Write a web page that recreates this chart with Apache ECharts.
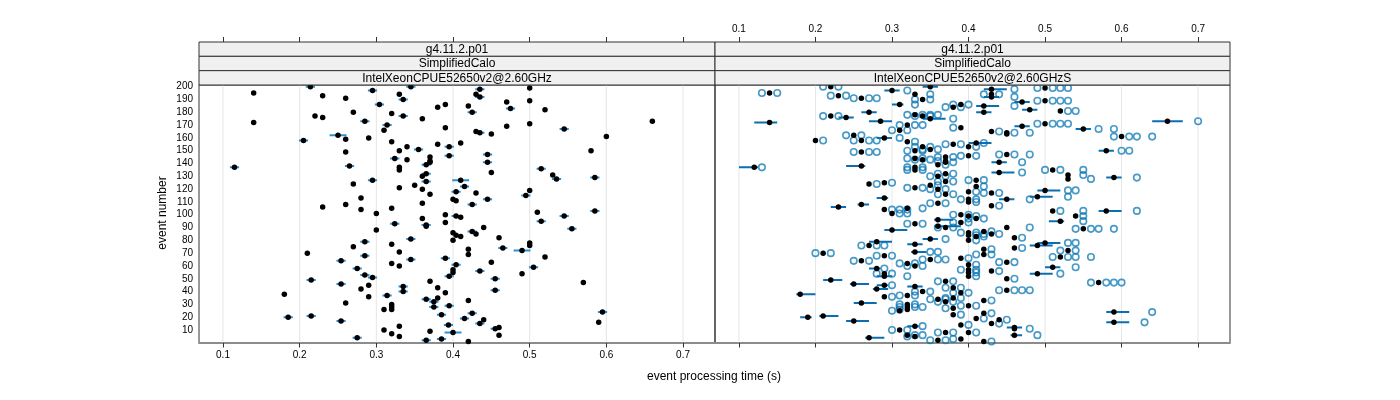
<!DOCTYPE html>
<html><head><meta charset="utf-8">
<script src="https://cdn.jsdelivr.net/npm/echarts@6/dist/echarts.min.js"></script>
<style>html,body{margin:0;padding:0;background:#fff}#c{width:1400px;height:400px}</style>
</head><body><div id="c"></div>
<script>
const xTicks = [0.1,0.2,0.3,0.4,0.5,0.6,0.7];
const yTicks = [10,20,30,40,50,60,70,80,90,100,110,120,130,140,150,160,170,180,190,200];
const stripLeft = ['g4.11.2.p01','SimplifiedCalo','IntelXeonCPUE52650v2@2.60GHz'];
const stripRight = ['g4.11.2.p01','SimplifiedCalo','IntelXeonCPUE52650v2@2.60GHzS'];
const xTitle = 'event processing time (s)';
const yTitle = 'event number';

// left panel: [time, event]
const leftPoints = [
[0.140,195],[0.140,172],[0.115,137],[0.214,200],[0.230,193],[0.260,191],[0.295,197],[0.330,194],[0.335,190],[0.345,200],[0.304,186],[0.270,180],[0.320,179],[0.335,177],[0.220,177],[0.230,176],[0.285,173],[0.360,175],[0.314,170],[0.310,166],[0.250,162],[0.260,159],[0.290,160],[0.205,158],[0.320,157],[0.380,155],[0.390,186],[0.380,184],[0.390,168],[0.340,153],[0.330,150],[0.355,151],[0.260,149],[0.324,144],[0.340,143],[0.370,145],[0.370,142],[0.370,141],[0.365,139],[0.265,138],[0.330,137],[0.330,135],[0.365,132],[0.360,130],[0.365,126],[0.295,127],[0.270,124],[0.350,123],[0.330,121],[0.360,120],[0.370,116],[0.280,113],[0.360,109],[0.260,108],[0.230,106],[0.280,104],[0.320,105],[0.300,101],[0.390,100],
[0.435,198],[0.430,194],[0.435,192],[0.500,199],[0.420,185],[0.425,180],[0.470,188],[0.475,183],[0.500,189],[0.520,182],[0.660,173],[0.430,165],[0.435,164],[0.450,163],[0.470,169],[0.500,171],[0.545,167],[0.600,161],[0.410,156],[0.395,153],[0.395,146],[0.445,147],[0.445,141],[0.580,150],[0.450,133],[0.515,136],[0.530,131],[0.535,128],[0.585,129],[0.410,127],[0.415,122],[0.404,118],[0.430,117],[0.500,119],[0.495,115],[0.400,112],[0.404,111],[0.445,112],[0.425,108],[0.510,102],[0.545,99],[0.585,103],[0.404,99],[0.410,98],
[0.360,97],[0.390,94],[0.324,93],[0.365,92],[0.365,91],[0.300,88],[0.345,81],[0.285,79],[0.320,77],[0.270,75],[0.330,71],[0.210,70],[0.285,68],[0.345,65],[0.254,64],[0.320,62],[0.330,60],[0.275,58],[0.285,53],[0.295,51],[0.215,49],[0.370,48],[0.254,46],[0.290,45],[0.280,42],[0.380,43],[0.335,44],[0.335,40],[0.390,39],[0.180,38],[0.314,37],[0.290,36],[0.365,34],[0.380,35],[0.375,32],[0.260,31],[0.320,30],[0.320,28],[0.320,26],[0.375,28],[0.310,26],[0.185,20],[0.215,21],[0.385,22],[0.254,17],[0.310,10],[0.330,13],[0.370,9],[0.320,7],[0.330,5],[0.275,4],[0.365,2],[0.385,3],[0.394,14],[0.390,66],
[0.515,95],[0.555,89],[0.440,90],[0.400,86],[0.404,84],[0.410,83],[0.425,87],[0.430,85],[0.400,80],[0.460,82],[0.500,78],[0.500,76],[0.465,74],[0.490,72],[0.420,73],[0.420,69],[0.520,67],[0.450,63],[0.404,61],[0.400,57],[0.400,55],[0.435,56],[0.505,59],[0.395,52],[0.490,54],[0.455,50],[0.570,47],[0.455,41],[0.420,33],[0.395,29],[0.425,23],[0.415,19],[0.440,18],[0.435,15],[0.455,11],[0.460,12],[0.400,8],[0.460,6],[0.420,1],[0.595,24],[0.590,16]
];
// left panel error bars: [low, high, event]
const leftErr = [
[0.109,0.121,137],[0.208,0.220,200],[0.289,0.301,197],[0.329,0.341,190],[0.339,0.351,200],[0.298,0.310,186],[0.329,0.341,177],[0.279,0.291,173],[0.308,0.320,170],[0.239,0.261,162],[0.199,0.211,158],[0.349,0.361,151],[0.318,0.330,144],[0.359,0.371,139],[0.259,0.271,138],[0.359,0.371,132],[0.359,0.371,126],[0.289,0.301,127],
[0.429,0.441,198],[0.429,0.441,192],[0.419,0.431,180],[0.469,0.481,183],[0.429,0.441,164],[0.539,0.551,167],[0.389,0.401,153],[0.389,0.401,146],[0.439,0.451,147],[0.439,0.451,141],[0.509,0.521,136],[0.529,0.541,128],[0.579,0.591,129],[0.399,0.421,127],[0.409,0.421,122],[0.398,0.410,118],[0.489,0.501,115],[0.439,0.451,112],[0.419,0.431,108],[0.539,0.551,99],[0.579,0.591,103],[0.398,0.410,99],
[0.318,0.330,93],[0.359,0.371,92],[0.339,0.351,81],[0.279,0.291,79],[0.279,0.291,68],[0.339,0.351,65],[0.248,0.260,64],[0.269,0.281,58],[0.279,0.291,53],[0.289,0.301,51],[0.209,0.221,49],[0.248,0.260,46],[0.329,0.341,44],[0.329,0.341,40],[0.308,0.320,37],[0.359,0.371,34],[0.369,0.381,32],[0.369,0.381,28],[0.179,0.191,20],[0.209,0.221,21],[0.379,0.391,22],[0.248,0.260,17],[0.269,0.281,4],[0.359,0.371,2],[0.379,0.391,3],[0.388,0.400,14],[0.384,0.396,66],
[0.509,0.521,95],[0.549,0.561,89],[0.419,0.431,87],[0.459,0.471,74],[0.479,0.501,72],[0.398,0.410,61],[0.429,0.441,56],[0.499,0.511,59],[0.389,0.401,52],[0.449,0.461,50],[0.449,0.461,41],[0.389,0.401,29],[0.419,0.431,23],[0.409,0.421,19],[0.429,0.441,15],[0.449,0.461,11],[0.389,0.411,8],[0.589,0.601,24]
];
// right panel means: [time, event]
const rightPoints = [
[.14,195],[.14,172],[.12,137],[.22,200],[.23,193],[.26,191],[.30,197],[.33,194],[.34,190],[.35,200],[.31,186],[.27,180],[.33,178],[.34,177],[.22,177],[.24,176],[.285,173],[.35,175],[.32,170],[.31,166],[.25,162],[.26,158],[.29,160],[.20,158],[.32,157],[.38,155],[.39,186],[.38,184],[.39,168],[.34,153],[.33,150],[.35,151],[.26,149],[.33,144],[.34,143],[.37,145],[.37,142],[.37,141],[.36,139],[.26,138],[.33,137],[.33,135],[.37,132],[.36,130],[.37,126],[.29,125],[.27,124],[.35,123],[.33,121],[.36,120],[.37,116],[.29,113],[.36,109],[.26,108],[.23,106],[.29,104],[.32,105],[.30,101],[.39,100],
[.43,198],[.43,194],[.43,192],[.50,199],[.42,185],[.42,180],[.47,188],[.48,182],[.50,189],[.52,181],[.66,173],[.43,165],[.45,164],[.45,163],[.47,169],[.50,171],[.55,167],[.60,161],[.41,156],[.40,153],[.40,146],[.45,147],[.44,141],[.58,150],[.44,133],[.51,135],[.53,131],[.53,128],[.59,129],[.41,127],[.41,122],[.40,118],[.43,117],[.50,119],[.49,114],[.40,112],[.40,110],[.45,112],[.43,107],[.51,103],[.54,99],[.58,103],[.40,99],[.41,97],
[.36,96],[.39,94],[.33,93],[.36,91],[.37,90],[.30,88],[.35,81],[.28,79],[.33,77],[.27,76],[.33,71],[.21,70],[.29,68],[.35,65],[.26,64],[.32,62],[.33,60],[.28,58],[.29,54],[.29,52],[.22,49],[.37,48],[.25,46],[.29,45],[.28,42],[.38,43],[.33,44],[.34,40],[.39,39],[.18,38],[.32,37],[.29,36],[.36,34],[.38,35],[.37,32],[.26,31],[.32,30],[.32,28],[.32,26],[.38,27],[.31,25],[.19,20],[.21,21],[.38,22],[.25,17],[.31,10],[.33,13],[.37,8],[.32,6],[.33,5],[.27,4],[.36,2],[.39,3],[.39,14],[.39,66],
[.52,95],[.55,89],[.45,90],[.40,86],[.40,84],[.41,83],[.42,87],[.43,85],[.40,80],[.46,82],[.50,78],[.49,76],[.46,74],[.53,72],[.42,73],[.42,69],[.52,67],[.45,63],[.40,61],[.40,57],[.40,55],[.43,56],[.51,59],[.40,52],[.49,54],[.45,50],[.57,47],[.45,41],[.42,33],[.40,29],[.42,23],[.41,19],[.44,18],[.43,15],[.46,11],[.46,12],[.40,8],[.46,6],[.42,1],[.59,24],[.59,16]
];
// right panel bars: [low, high, event]
const rightErr = [
[.12,.15,172],[.10,.125,137],[.29,.31,197],[.34,.36,200],[.30,.315,186],[.26,.28,180],[.23,.25,176],[.27,.30,173],[.34,.37,175],[.28,.30,160],[.24,.265,138],[.28,.295,113],[.255,.27,108],[.22,.24,106],
[.42,.45,198],[.42,.44,192],[.41,.44,185],[.41,.43,180],[.46,.48,188],[.47,.49,182],[.64,.68,173],[.46,.48,169],[.54,.56,167],[.40,.43,156],[.43,.45,141],[.57,.59,150],[.43,.46,133],[.58,.60,129],[.49,.52,119],[.48,.51,114],[.44,.46,112],[.57,.60,103],
[.355,.38,96],[.355,.39,91],[.29,.32,88],[.34,.36,81],[.27,.30,79],[.32,.34,77],[.325,.345,71],[.27,.285,58],[.28,.30,52],[.21,.235,49],[.245,.27,46],[.28,.295,45],[.275,.295,42],[.32,.34,44],[.175,.20,38],[.25,.28,31],[.18,.195,20],[.205,.23,21],[.24,.27,17],[.32,.335,13],[.265,.29,4],
[.505,.525,95],[.49,.52,78],[.48,.51,76],[.50,.52,59],[.48,.51,54],[.45,.47,12],[.455,.47,6],[.58,.61,24],[.58,.61,16]
];
// right panel individual runs: [event, time, time, ...]
const rightRuns = [
[195,.13,.15],[137,.13],[200,.21,.23],[193,.22,.24],[191,.25,.27,.28],[197,.32],[194,.35],[190,.33,.35],[186,.33],[178,.32,.34,.35,.36],[177,.33,.35],[177,.21,.23],[175,.38],[170,.31,.33,.34],[166,.30,.32],[162,.24,.26],[158,.25,.27,.28],[160,.31],[158,.21],[157,.33],[155,.37,.39],[186,.38,.40],[184,.37,.39],[168,.38],[153,.33,.35],[150,.32,.34],[151,.34,.36],[149,.25,.27,.28],[144,.32,.34],[143,.33,.35],[145,.36,.38],[142,.36],[141,.38],[139,.37],[137,.32,.34],[135,.32,.34],[132,.36,.38],[130,.35,.37],[126,.36,.38],[125,.30],[124,.28],[123,.36],[121,.32,.34],[120,.35,.37],[116,.36,.38],[109,.35,.37],[104,.30,.31,.32],[105,.34],[101,.31,.32],[100,.38,.40],
[198,.46],[194,.42,.44],[192,.46],[199,.49,.51,.52,.53],[185,.46],[189,.49,.51,.52,.53],[181,.53,.54],[173,.70],[165,.44],[164,.46,.48],[171,.49,.51,.52,.53],[167,.57,.59],[161,.59,.61,.62,.64],[156,.42],[153,.41],[146,.39,.41],[147,.44,.46,.48],[141,.47],[150,.60,.61],[133,.47],[135,.50,.52,.55],[131,.55],[128,.56],[129,.62],[127,.40,.42],[122,.42],[118,.41],[117,.42,.44],[119,.53,.54],[114,.53],[112,.39,.41],[110,.41],[112,.48],[107,.44],[103,.52,.55],[99,.55],[103,.62],[99,.41],[97,.40,.42],
[94,.38,.40],[93,.32,.34],[90,.36,.38],[81,.37],[76,.26,.28,.29],[71,.35,.36],[70,.20,.22],[68,.28,.30],[65,.34,.36,.37],[64,.25,.27],[62,.31,.33],[60,.32,.34],[58,.29],[54,.28,.30],[52,.32],[48,.36,.38],[45,.30],[43,.37,.39],[40,.33,.35],[39,.38,.40],[37,.31,.33],[36,.30],[34,.35,.37],[35,.37,.39],[32,.36,.38],[30,.31,.33],[28,.31,.33,.34],[26,.31],[27,.37],[25,.30],[22,.39],[10,.30,.32],[13,.34],[8,.36,.38],[6,.33,.34],[5,.32],[2,.35,.37],[3,.38],[14,.40],[66,.40],
[95,.55],[89,.54,.56,.57,.59],[90,.48],[86,.39,.41],[84,.41],[83,.42],[87,.43],[85,.42,.44],[80,.41],[82,.47],[78,.53,.54],[74,.47],[72,.52,.54],[73,.43],[69,.41,.43],[67,.51,.53,.54,.56],[63,.44,.46],[61,.41],[57,.39,.41],[55,.41],[56,.44],[59,.54],[52,.41],[54,.52],[50,.46],[47,.56,.58,.59,.60],[41,.44,.46,.47,.48],[33,.43],[29,.39,.41],[23,.43],[19,.42],[18,.45],[15,.44],[11,.48],[8,.41],[6,.49],[1,.43],[24,.64],[16,.63]
];

// ---- layout ----
const X_MIN = 0.0687, X_MAX = 0.7417, Y_MIN = 0.25, Y_MAX = 201.3;
const FONT = 'Liberation Sans, Arial, Helvetica, sans-serif';
const PANELS = [{left:199, width:516}, {left:715, width:515}];
const GRID_TOP = 85, GRID_H = 257.5, STRIP_TOP = 42;
const STRIP_H = (GRID_TOP - STRIP_TOP) / 3;

const runData = [];
rightRuns.forEach(r => { for (let i = 1; i < r.length; i++) runData.push([r[i], r[0]]); });
const gridLineData = xTicks.map(v => [v, Y_MIN, Y_MAX]);

function gridLineRender(params, api) {
  const a = api.coord([api.value(0), api.value(1)]);
  const b = api.coord([api.value(0), api.value(2)]);
  return {type:'line', shape:{x1:a[0], y1:a[1], x2:b[0], y2:b[1]}, style:{stroke:'#e6e6e6', lineWidth:1}};
}
function barRender(color, width) {
  return function(params, api) {
    const a = api.coord([api.value(0), api.value(2)]);
    const b = api.coord([api.value(1), api.value(2)]);
    return {type:'line', shape:{x1:a[0], y1:a[1], x2:b[0], y2:b[1]}, style:{stroke:color, lineWidth:width}};
  };
}
const fmt = v => v.toFixed(1);
function xAxisDef(grid, pos, labels, line) {
  return {
    gridIndex: grid, type:'value', min:X_MIN, max:X_MAX, position:pos,
    offset: pos === 'top' ? (GRID_TOP - STRIP_TOP) : 0,
    axisLine: {show: line, onZero:false, lineStyle:{color:'#8c8c8c', width:2}},
    axisTick: {show:true, customValues:xTicks, length:5, inside:false, lineStyle:{color:'#333', width:1}},
    axisLabel: {show:labels, customValues:xTicks, formatter:fmt, fontSize:10, color:'#000', fontFamily:FONT, margin:8},
    splitLine: {show:false}
  };
}
function yAxisDef(grid, labels) {
  return {
    gridIndex: grid, type:'value', min:Y_MIN, max:Y_MAX, position:'left',
    axisLine:{show:false}, axisTick:{show:false},
    axisLabel:{show:labels, customValues:yTicks, fontSize:10, color:'#000', fontFamily:FONT, margin:6},
    splitLine:{show:false}
  };
}

const graphics = [];
[stripLeft, stripRight].forEach((labels, p) => {
  const P = PANELS[p];
  labels.forEach((t, i) => {
    const y = STRIP_TOP + i * STRIP_H;
    graphics.push({type:'rect', z:10, shape:{x:P.left, y:y, width:P.width, height:STRIP_H},
      style:{fill:'#f0f0f0', stroke:'#333', lineWidth:1}});
    graphics.push({type:'text', z:11, style:{text:t, x:P.left + P.width/2, y:y + STRIP_H/2 + 0.5,
      textAlign:'center', textVerticalAlign:'middle', font:'12px ' + FONT, fill:'#000'}});
  });
});
graphics.push({type:'text', style:{text:xTitle, x:714, y:377, textAlign:'center', textVerticalAlign:'middle', font:'12px ' + FONT, fill:'#000'}});
graphics.push({type:'text', rotation:Math.PI/2, x:163, y:213, style:{text:yTitle, x:0, y:0, textAlign:'center', textVerticalAlign:'middle', font:'12px ' + FONT, fill:'#000'}});

const chart = echarts.init(document.getElementById('c'), null, {renderer:'canvas'});
chart.setOption({
  animation:false,
  backgroundColor:'#fff',
  grid: PANELS.map(P => ({left:P.left, width:P.width, top:GRID_TOP, height:GRID_H, show:true, borderColor:'#333', borderWidth:1, backgroundColor:'transparent'})),
  xAxis: [xAxisDef(0,'bottom',true,true), xAxisDef(0,'top',false,false), xAxisDef(1,'bottom',false,true), xAxisDef(1,'top',true,false)],
  yAxis: [yAxisDef(0,true), yAxisDef(1,false)],
  graphic: graphics,
  series: [
    {type:'custom', xAxisIndex:0, yAxisIndex:0, data:gridLineData, renderItem:gridLineRender, encode:{x:0, y:[1,2]}, z:1, silent:true},
    {type:'custom', xAxisIndex:2, yAxisIndex:1, data:gridLineData, renderItem:gridLineRender, encode:{x:0, y:[1,2]}, z:1, silent:true},
    {type:'custom', xAxisIndex:0, yAxisIndex:0, data:leftErr, renderItem:barRender('#2b8fd6', 2), encode:{x:[0,1], y:2}, z:2, clip:true},
    {type:'scatter', xAxisIndex:0, yAxisIndex:0, data:leftPoints, symbol:'circle', symbolSize:5.5, itemStyle:{color:'#000', opacity:1}, z:4, clip:true},
    {type:'custom', xAxisIndex:2, yAxisIndex:1, data:rightErr, renderItem:barRender('#0a6fb0', 2), encode:{x:[0,1], y:2}, z:2, clip:true},
    {type:'scatter', xAxisIndex:2, yAxisIndex:1, data:runData, symbol:'circle', symbolSize:6.5,
      itemStyle:{color:'rgba(0,0,0,0)', borderColor:'rgba(0,114,178,0.9)', borderWidth:1.6}, z:3, clip:true},
    {type:'scatter', xAxisIndex:2, yAxisIndex:1, data:rightPoints, symbol:'circle', symbolSize:5.5, itemStyle:{color:'#000', opacity:1}, z:4, clip:true}
  ]
});
</script>
</body></html>
